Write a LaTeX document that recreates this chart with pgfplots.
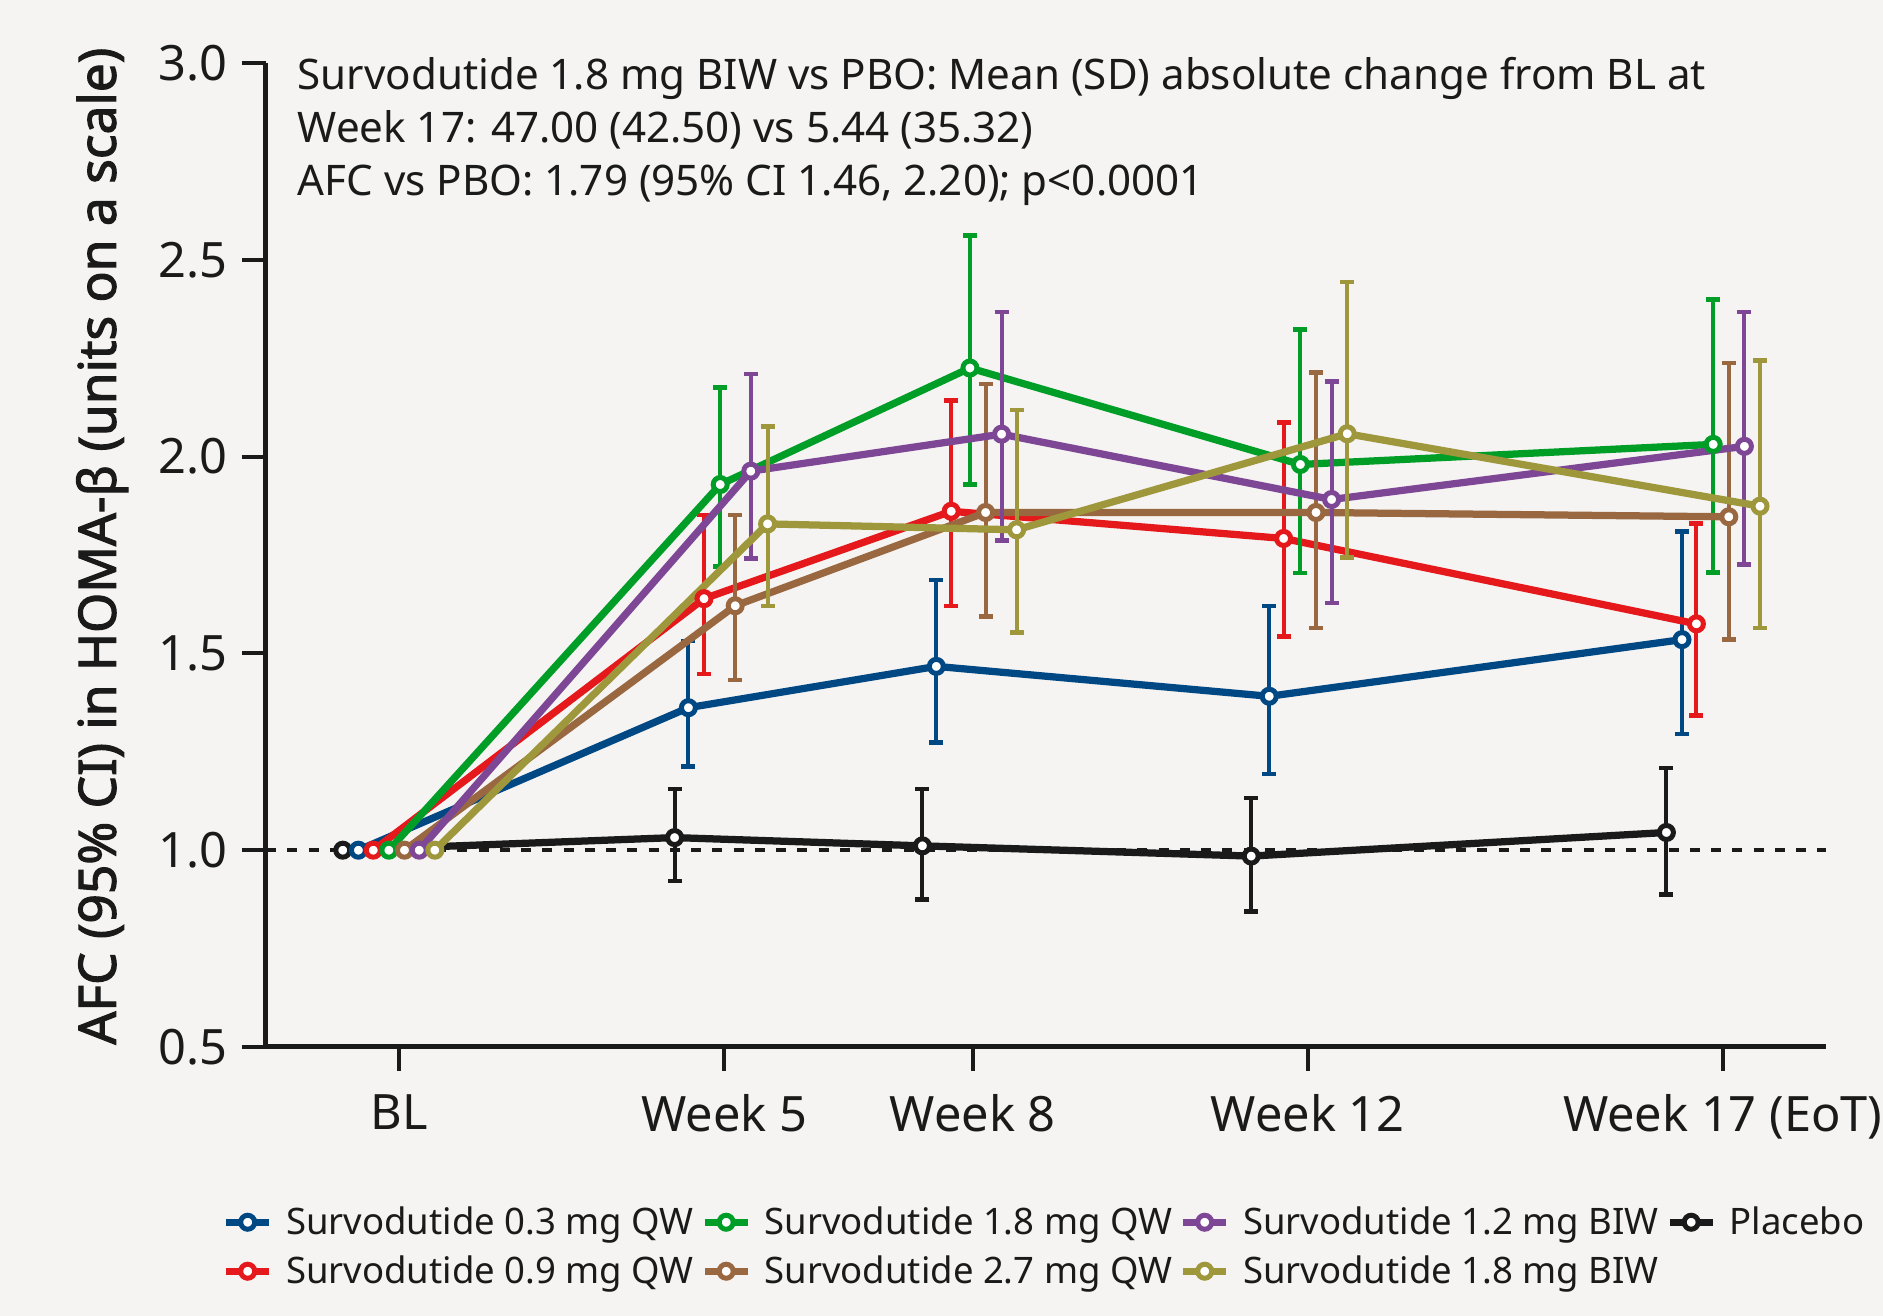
\documentclass[border=0pt]{standalone}
\usepackage{fontspec}
\setmainfont{Noto Sans}
\newfontfamily\ylabfont{Noto Sans}[FakeBold=2.2]
\usepackage{pgfplots}
\pgfplotsset{compat=1.18}
\usepackage{pgfplotstable}
\definecolor{bgc}{HTML}{F5F4F2}
\definecolor{cblack}{HTML}{1A1A1A}
\definecolor{cblue}{HTML}{004884}
\definecolor{cred}{HTML}{E5181B}
\definecolor{cgreen}{HTML}{009E27}
\definecolor{cbrown}{HTML}{9A6840}
\definecolor{cpurple}{HTML}{7E4796}
\definecolor{colive}{HTML}{9E973C}

\pgfplotstableread{
x y ep em
286 1.000 0 0
562.5 1.032 0.123 0.110
769 1.011 0.144 0.136
1043 0.985 0.147 0.141
1389 1.045 0.164 0.158
}\tplacebo
\pgfplotstableread{
x y ep em
299 1.000 0 0
574 1.362 0.170 0.150
780.6 1.467 0.219 0.193
1058 1.391 0.229 0.197
1402 1.535 0.275 0.240
}\tblue
\pgfplotstableread{
x y ep em
311.4 1.000 0 0
587 1.639 0.213 0.191
793 1.861 0.282 0.241
1070 1.792 0.294 0.249
1414 1.575 0.255 0.233
}\tred
\pgfplotstableread{
x y ep em
324.4 1.000 0 0
600.5 1.929 0.247 0.208
808.6 2.225 0.337 0.296
1084 1.980 0.343 0.276
1428 2.031 0.368 0.325
}\tgreen
\pgfplotstableread{
x y ep em
337.4 1.000 0 0
613 1.621 0.231 0.188
821.7 1.858 0.327 0.264
1097 1.858 0.356 0.293
1441 1.847 0.391 0.312
}\tbrown
\pgfplotstableread{
x y ep em
349.7 1.000 0 0
626 1.963 0.247 0.222
835 2.057 0.310 0.270
1110 1.891 0.300 0.263
1454 2.026 0.341 0.300
}\tpurple
\pgfplotstableread{
x y ep em
362.7 1.000 0 0
640 1.829 0.248 0.208
847.5 1.814 0.304 0.261
1123 2.058 0.385 0.315
1467 1.874 0.370 0.309
}\tolive

\pgfplotsset{
  ser/.style={color=#1, line width=2.9pt, mark=*, mark size=2.8pt,
    mark options={fill=white, draw=#1, line width=2pt, solid},
    error bars/y dir=both, error bars/y explicit,
    error bars/error bar style={line width=1.6pt, color=#1},
    error bars/error mark options={rotate=90, line width=1.8pt, mark size=2.8pt, color=#1}},
}

\begin{document}
\begin{tikzpicture}
\fill[bgc] (0,0) rectangle (753.2pt,526.4pt);
\begin{axis}[
  at={(106.4pt,107.6pt)}, anchor=south west,
  scale only axis, width=624pt, height=393.6pt,
  xmin=222, xmax=1522, ymin=0.5, ymax=3.0,
  axis x line*=bottom, axis y line*=left,
  axis line style={line width=2pt, -, cblack},
  tick align=outside, major tick length=9.6pt,
  major tick style={line width=1.6pt, cblack},
  xtick={333,604,811,1090,1436},
  xticklabels={BL, Week 5, Week 8, Week 12, Week 17 (EoT)},
  ytick={0.5,1.0,1.5,2.0,2.5,3.0},
  minor tick num=0,
  /pgf/number format/assume math mode=true,
  tick label style={font=\fontsize{19.5}{22}\selectfont, text=cblack},
  xticklabel style={yshift=-6pt},
  yticklabel style={xshift=-2.4pt, /pgf/number format/.cd, fixed, fixed zerofill, precision=1},
  ylabel={AFC (95\% CI) in HOMA-β (units on a scale)},
  ylabel style={font=\ylabfont\fontsize{20.6}{23}\selectfont, at={(axis description cs:-0.105,0.509)}, anchor=center, text=cblack},
  clip=false,
  legend columns=4,
  legend style={at={(0.5,-0.203)}, anchor=center, draw=none, fill=none,
    font=\fontsize{14.6}{17}\selectfont, text=cblack, row sep=3pt,
    /tikz/every odd column/.append style={column sep=3.4pt},
    /tikz/every even column/.append style={column sep=1pt}},
  legend cell align=left,
]
\addplot[forget plot, cblack, line width=1.6pt, dash pattern=on 4pt off 4.5pt] coordinates {(222,1) (1522,1)};
\addplot[ser=cblack, forget plot] table[x=x, y=y, y error plus=ep, y error minus=em]{\tplacebo};
\addplot[ser=cblue, forget plot] table[x=x, y=y, y error plus=ep, y error minus=em]{\tblue};
\addplot[ser=cred, forget plot] table[x=x, y=y, y error plus=ep, y error minus=em]{\tred};
\addplot[ser=cgreen, forget plot] table[x=x, y=y, y error plus=ep, y error minus=em]{\tgreen};
\addplot[ser=cbrown, forget plot] table[x=x, y=y, y error plus=ep, y error minus=em]{\tbrown};
\addplot[ser=cpurple, forget plot] table[x=x, y=y, y error plus=ep, y error minus=em]{\tpurple};
\addplot[ser=colive, forget plot] table[x=x, y=y, y error plus=ep, y error minus=em]{\tolive};

\addlegendimage{ser=cblue}\addlegendentry{Survodutide 0.3 mg QW}
\addlegendimage{ser=cgreen}\addlegendentry{Survodutide 1.8 mg QW}
\addlegendimage{ser=cpurple}\addlegendentry{Survodutide 1.2 mg BIW}
\addlegendimage{ser=cblack}\addlegendentry{Placebo}
\addlegendimage{ser=cred}\addlegendentry{Survodutide 0.9 mg QW}
\addlegendimage{ser=cbrown}\addlegendentry{Survodutide 2.7 mg QW}
\addlegendimage{ser=colive}\addlegendentry{Survodutide 1.8 mg BIW}

\node[anchor=base west, inner sep=0pt, font=\fontsize{16.85}{20}\selectfont, text=cblack] at (axis cs:248,2.933) {Survodutide 1.8 mg BIW vs PBO: Mean (SD) absolute change from BL at};
\node[anchor=base west, inner sep=0pt, font=\fontsize{16.85}{20}\selectfont, text=cblack] at (axis cs:248,2.798) {Week 17: 47.00 (42.50) vs 5.44 (35.32)};
\node[anchor=base west, inner sep=0pt, font=\fontsize{16.85}{20}\selectfont, text=cblack] at (axis cs:248,2.664) {AFC vs PBO: 1.79 (95\% CI 1.46, 2.20); p<0.0001};
\end{axis}
\pgfresetboundingbox
\path[use as bounding box] (0,0) rectangle (753.2pt,526.4pt);
\end{tikzpicture}
\end{document}
